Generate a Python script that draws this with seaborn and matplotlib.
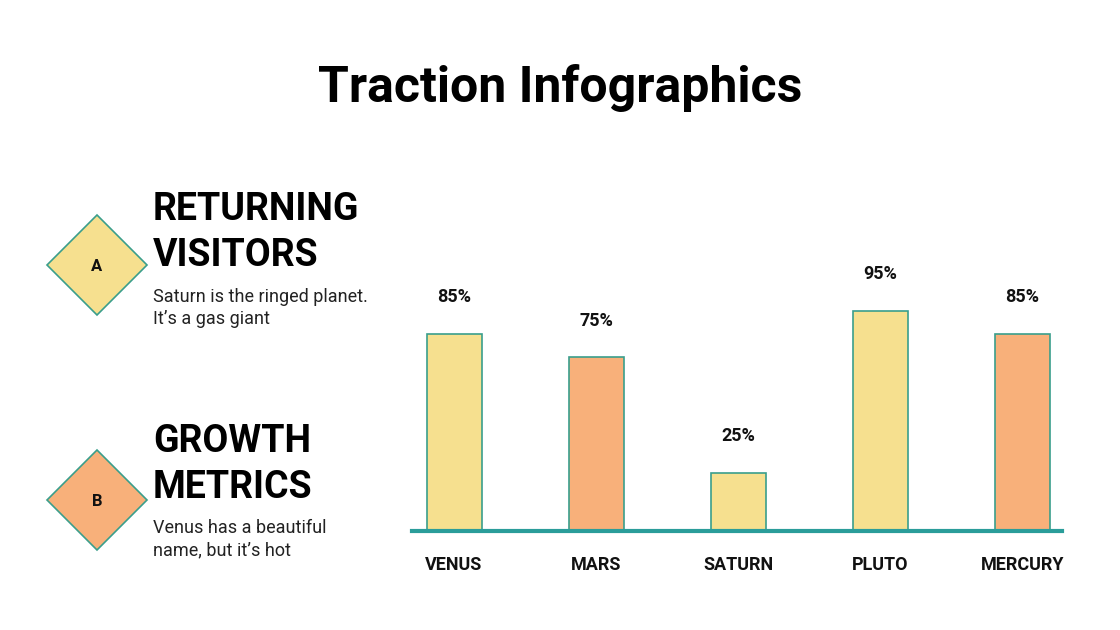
import matplotlib
matplotlib.use("Agg")
import matplotlib.pyplot as plt
import seaborn as sns
import pandas as pd
from matplotlib.patches import Polygon

categories = ["VENUS", "MARS", "SATURN", "PLUTO", "MERCURY"]
values = [85, 75, 25, 95, 85]
labels = ["85%", "75%", "25%", "95%", "85%"]
yellow = "#F6E08F"
orange = "#F8B07A"
bar_colors = [yellow, orange, yellow, yellow, orange]
teal = "#3A9E8C"

sns.set_theme(style="white")
plt.rcParams['font.family'] = ['Roboto', 'DejaVu Sans']

W, H = 1120, 630
fig = plt.figure(figsize=(11.2, 6.3), dpi=100)
fig.patch.set_facecolor("white")

ax = fig.add_axes([412/W, 1-531/H, 650/W, 301/H])
df = pd.DataFrame({"cat": categories, "val": values})
sns.barplot(data=df, x="cat", y="val", hue="cat", palette=bar_colors, legend=False,
            width=0.387, edgecolor=teal, linewidth=1.2, saturation=1, ax=ax)
ax.set_xlim(-0.296, 4.28)
ax.set_ylim(0, 130)
for i, (v, l) in enumerate(zip(values, labels)):
    ax.text(i, v + 12, l, ha="center", va="bottom", fontsize=13, fontweight="bold", color="#111")
for s in ["top", "right", "left"]:
    ax.spines[s].set_visible(False)
ax.spines["bottom"].set_color("#2A9D9A")
ax.spines["bottom"].set_linewidth(3)
ax.set_yticks([])
ax.set_xlabel(""); ax.set_ylabel("")
ax.tick_params(axis="x", length=0, pad=18)
for t in ax.get_xticklabels():
    t.set_fontweight("bold"); t.set_fontsize(13); t.set_color("#111")

fig.text(560/W, 1-88/H, "Traction Infographics", ha="center", va="center",
         fontsize=36, fontweight="bold", color="black")

def diamond(cx, cy, r, color, letter):
    pts = [(cx/W, 1-(cy-r)/H), ((cx+r)/W, 1-cy/H), (cx/W, 1-(cy+r)/H), ((cx-r)/W, 1-cy/H)]
    fig.add_artist(Polygon(pts, closed=True, facecolor=color, edgecolor=teal, linewidth=1.2,
                           transform=fig.transFigure))
    fig.text(cx/W, 1-(cy+1)/H, letter, ha="center", va="center", fontsize=12, fontweight="bold", color="#111")

diamond(97, 265, 50, yellow, "A")
diamond(97, 500, 50, orange, "B")

def block(y1, y2, h1, h2, yb, body):
    fig.text(153/W, 1-y1/H, h1, ha="left", va="center", fontsize=27, fontweight="bold", color="black")
    fig.text(153/W, 1-y2/H, h2, ha="left", va="center", fontsize=27, fontweight="bold", color="black")
    fig.text(153/W, 1-yb/H, body, ha="left", va="top", fontsize=13, color="#222", linespacing=1.3)

block(210, 256, "RETURNING", "VISITORS", 288, "Saturn is the ringed planet.\nIt’s a gas giant")
block(442, 488, "GROWTH", "METRICS", 519, "Venus has a beautiful\nname, but it’s hot")

fig.savefig("out.png", dpi=100, facecolor="white")
